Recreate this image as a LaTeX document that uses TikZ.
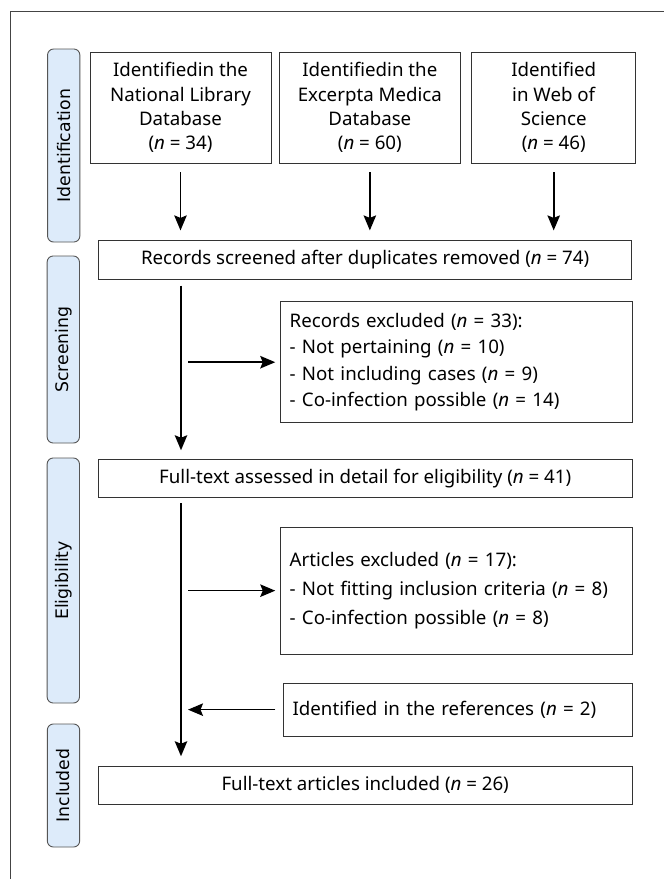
\documentclass[tikz,border=0pt]{standalone}
\usepackage{fontspec}
\setmainfont{Noto Sans}
\newfontfamily\lblfont{DejaVu Sans}
\usetikzlibrary{arrows.meta}
\definecolor{lblfill}{HTML}{DDEBFA}
\definecolor{lbldraw}{HTML}{555555}
\definecolor{boxdraw}{HTML}{333333}
\definecolor{framecol}{HTML}{444444}
\newcommand{\nn}{\textit{n}}
\begin{document}
\begin{tikzpicture}[x=1pt,y=-1pt,
  box/.style={draw=boxdraw, line width=0.9pt, fill=white, inner sep=0pt, align=center,
              font=\fontsize{18.7}{24.3}\selectfont},
  lbox/.style={box, align=left, inner xsep=9pt, text width=#1},
  phase/.style={draw=lbldraw, fill=lblfill, rounded corners=6pt, line width=0.9pt,
                minimum height=32.3pt, inner sep=0pt, rotate=90,
                font=\lblfont\fontsize{17.3}{17.3}\selectfont},
  arr/.style={line width=1.6pt, -{Stealth[length=15pt,width=12.5pt,inset=2.5pt]}}]
\useasboundingbox (0,0) rectangle (664,879);
\fill[white] (0,0) rectangle (664,879);
\draw[framecol, line width=1pt] (10.5,879) -- (10.5,11) -- (664,11);

% phase labels
\node[phase, minimum width=193pt] (pid) at (63.7,145.5) {Identification};
\node[phase, minimum width=187pt] (psc) at (63.3,349.5) {Screening};
\node[phase, minimum width=245pt] (pel) at (63.3,580.5) {Eligibility};
\node[phase, minimum width=123pt] (pin) at (63.5,785.5) {Included};

% boxes
\node[box, minimum width=181pt, minimum height=111pt] (b1) at (180.5,107.5)
  {Identifiedin the\\National Library\\Database\\(\nn{} = 34)};
\node[box, minimum width=181.7pt, minimum height=111pt] (b2) at (369.85,107.5)
  {Identifiedin the\\Excerpta Medica\\Database\\(\nn{} = 60)};
\node[box, minimum width=164pt, minimum height=111pt] (b3) at (553.7,107.5)
  {Identified\\in Web of\\Science\\(\nn{} = 46)};
\node[box, minimum width=533.5pt, minimum height=38.5pt] (rec) at (365.1,259.8)
  {Records screened after duplicates removed (\nn{} = 74)};
\node[lbox=333.3pt, minimum height=121pt, font=\fontsize{18.7}{26.3}\selectfont] (ex1) at (456.35,362.2)
  {Records excluded (\nn{} = 33):\\- Not pertaining (\nn{} = 10)\\- Not including cases (\nn{} = 9)\\- Co-infection possible (\nn{} = 14)};
\node[box, minimum width=533.6pt, minimum height=38.4pt] (fta) at (365.2,478.5)
  {Full-text assessed in detail for eligibility (\nn{} = 41)};
\node[lbox=333.3pt, minimum height=126.7pt, font=\fontsize{18.7}{29}\selectfont] (ex2) at (456.35,590.65)
  {Articles excluded (\nn{} = 17):\\- Not fitting inclusion criteria (\nn{} = 8)\\- Co-infection possible (\nn{} = 8)};
\node[lbox=330.1pt, inner xsep=9.3pt, minimum height=52.7pt] (refs) at (457.65,709.65)
  {Identified in the references (\nn{} = 2)};
\node[box, minimum width=533.6pt, minimum height=38.3pt] (inc) at (365.2,785.15)
  {Full-text articles included (\nn{} = 26)};

\coordinate (spine) at (181,0);

% connectors
\draw[arr, shorten <=9pt, shorten >=9.7pt] (b1.south) -- (b1.south |- rec.north);
\draw[arr, shorten <=9pt, shorten >=9.7pt] (b2.south) -- (b2.south |- rec.north);
\draw[arr, shorten <=9pt, shorten >=9.7pt] (b3.south) -- (b3.south |- rec.north);
\draw[arr, shorten <=6pt, shorten >=8.6pt] (rec.south -| spine) -- (fta.north -| spine);
\draw[arr, shorten >=5pt] ([xshift=7pt]spine |- ex1.west) -- (ex1.west);
\draw[arr, shorten <=5.3pt, shorten >=9.3pt] (fta.south -| spine) -- (inc.north -| spine);
\draw[arr, shorten >=5pt] ([xshift=7pt]spine |- ex2.west) -- (ex2.west);
\draw[arr, shorten <=7.6pt] (refs.west) -- ([xshift=7pt]spine |- refs.west);
\end{tikzpicture}
\end{document}
